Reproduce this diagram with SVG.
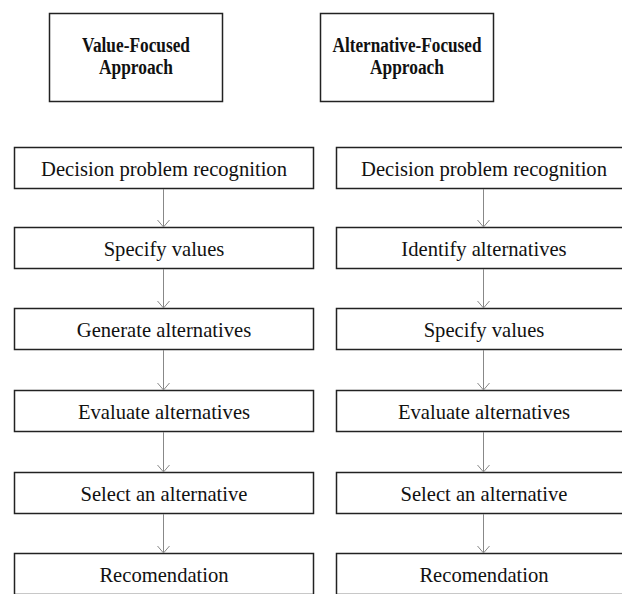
<svg xmlns="http://www.w3.org/2000/svg" width="622" height="594" viewBox="0 0 622 594">
<style>
.box{fill:#fff;stroke:#222;stroke-width:1.5}
.t{font-family:'Liberation Serif','Times New Roman','DejaVu Serif',serif;font-size:20.6px;fill:#111;text-anchor:middle}
.h{font-family:'Liberation Serif','Times New Roman','DejaVu Serif',serif;font-size:20px;font-weight:bold;fill:#111;text-anchor:middle}
.c{stroke:#888;stroke-width:1;fill:none}
</style>
<defs>
<marker id="ah" markerWidth="10" markerHeight="14" refX="8" refY="7" orient="auto" markerUnits="userSpaceOnUse" viewBox="0 0 10 14">
<path d="M1,1 L8,7 L1,13" fill="none" stroke="#888" stroke-width="1"/>
</marker>
</defs>
<rect width="622" height="594" fill="#fff"/>
<g id="h1"><rect class="box" x="49.5" y="13.5" width="173" height="88"/><text class="h" x="136" y="51.5" textLength="108" lengthAdjust="spacingAndGlyphs">Value-Focused</text><text class="h" x="136" y="74" textLength="74" lengthAdjust="spacingAndGlyphs">Approach</text></g>
<g id="h2"><rect class="box" x="320.5" y="13.5" width="173" height="88"/><text class="h" x="407" y="51.5" textLength="149" lengthAdjust="spacingAndGlyphs">Alternative-Focused</text><text class="h" x="407" y="74" textLength="74" lengthAdjust="spacingAndGlyphs">Approach</text></g>

<g id="l1"><rect class="box" x="14.5" y="147.5" width="299" height="41"/><text class="t" x="164" y="175.5">Decision problem recognition</text></g>
<g id="l2"><rect class="box" x="14.5" y="227.5" width="299" height="41"/><text class="t" x="164" y="255.5">Specify values</text></g>
<g id="l3"><rect class="box" x="14.5" y="308.5" width="299" height="41"/><text class="t" x="164" y="336.5">Generate alternatives</text></g>
<g id="l4"><rect class="box" x="14.5" y="390.5" width="299" height="41"/><text class="t" x="164" y="418.5">Evaluate alternatives</text></g>
<g id="l5"><rect class="box" x="14.5" y="472.5" width="299" height="41"/><text class="t" x="164" y="500.5">Select an alternative</text></g>
<g id="l6"><rect class="box" x="14.5" y="553.5" width="299" height="41"/><text class="t" x="164" y="581.5">Recomendation</text></g>

<g id="r1"><rect class="box" x="336.5" y="147.5" width="294" height="41"/><text class="t" x="484" y="175.5">Decision problem recognition</text></g>
<g id="r2"><rect class="box" x="336.5" y="227.5" width="294" height="41"/><text class="t" x="484" y="255.5">Identify alternatives</text></g>
<g id="r3"><rect class="box" x="336.5" y="308.5" width="294" height="41"/><text class="t" x="484" y="336.5">Specify values</text></g>
<g id="r4"><rect class="box" x="336.5" y="390.5" width="294" height="41"/><text class="t" x="484" y="418.5">Evaluate alternatives</text></g>
<g id="r5"><rect class="box" x="336.5" y="472.5" width="294" height="41"/><text class="t" x="484" y="500.5">Select an alternative</text></g>
<g id="r6"><rect class="box" x="336.5" y="553.5" width="294" height="41"/><text class="t" x="484" y="581.5">Recomendation</text></g>

<g id="connectors">
<line class="c" x1="163.5" y1="189" x2="163.5" y2="227" marker-end="url(#ah)"/>
<line class="c" x1="163.5" y1="269" x2="163.5" y2="308" marker-end="url(#ah)"/>
<line class="c" x1="163.5" y1="350" x2="163.5" y2="390" marker-end="url(#ah)"/>
<line class="c" x1="163.5" y1="432" x2="163.5" y2="472" marker-end="url(#ah)"/>
<line class="c" x1="163.5" y1="514" x2="163.5" y2="553" marker-end="url(#ah)"/>
<line class="c" x1="483.5" y1="189" x2="483.5" y2="227" marker-end="url(#ah)"/>
<line class="c" x1="483.5" y1="269" x2="483.5" y2="308" marker-end="url(#ah)"/>
<line class="c" x1="483.5" y1="350" x2="483.5" y2="390" marker-end="url(#ah)"/>
<line class="c" x1="483.5" y1="432" x2="483.5" y2="472" marker-end="url(#ah)"/>
<line class="c" x1="483.5" y1="514" x2="483.5" y2="553" marker-end="url(#ah)"/>
</g>
</svg>
